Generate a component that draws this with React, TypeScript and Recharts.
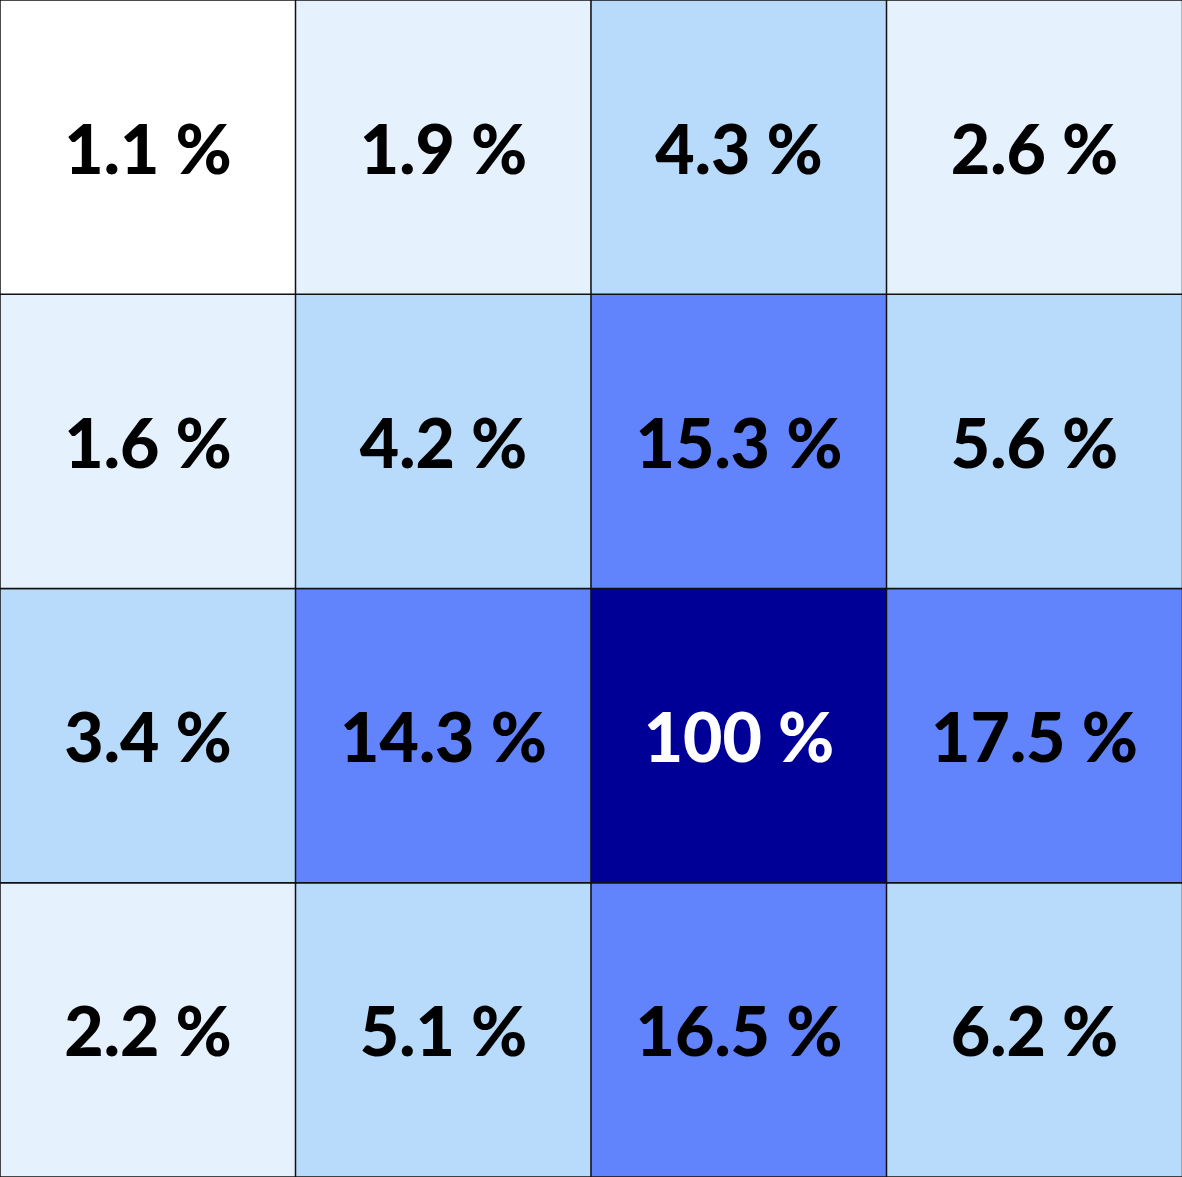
import { BarChart, Bar, XAxis, YAxis, Cell } from 'recharts'

// Column labels (left to right)
const columns = ['C1', 'C2', 'C3', 'C4']

// Values per row, top to bottom, in percent
const row1 = [1.1, 1.9, 4.3, 2.6]
const row2 = [1.6, 4.2, 15.3, 5.6]
const row3 = [3.4, 14.3, 100, 17.5]
const row4 = [2.2, 5.1, 16.5, 6.2]

// rows stacked from the bottom up
const rows = [
  { key: 'r4', values: row4 },
  { key: 'r3', values: row3 },
  { key: 'r2', values: row2 },
  { key: 'r1', values: row1 },
]

const W = 1182
const H = 1177

const colorFor = (v: number) => {
  if (v >= 50) return '#000096'
  if (v >= 10) return '#6184FD'
  if (v >= 3) return '#B8DBFB'
  if (v >= 1.5) return '#E5F1FC'
  return '#FFFFFF'
}

const formatPct = (v: number) => `${v} %`

// each column holds one unit-high cell per row
const data = columns.map((col) => {
  const d: Record<string, string | number> = { col }
  rows.forEach((r) => {
    d[r.key] = 1
  })
  return d
})

export default function App() {
  return (
    <div style={{ position: 'absolute', left: 0, top: 0, width: W, height: H, background: '#fff' }}>
      <BarChart width={W} height={H} data={data} margin={{ top: 0, right: 0, bottom: 0, left: 0 }} barCategoryGap={0} barGap={0}>
        <XAxis dataKey="col" hide />
        <YAxis type="number" domain={[0, 4]} hide />
        {rows.map((r) => (
          <Bar
            key={r.key}
            dataKey={r.key}
            stackId="grid"
            stroke="#111"
            strokeWidth={1.5}
            isAnimationActive={false}
            label={(props: any) => {
              const { x, y, width, height, index } = props
              const v = r.values[index]
              return (
                <text
                  x={Number(x) + Number(width) / 2}
                  y={Number(y) + Number(height) / 2}
                  textAnchor="middle"
                  dominantBaseline="central"
                  fontFamily="Lato, 'Open Sans', sans-serif"
                  fontWeight={900}
                  fontSize={68}
                  fill={v >= 50 ? '#FFFFFF' : '#000000'}
                >
                  {formatPct(v)}
                </text>
              )
            }}
          >
            {r.values.map((v, i) => (
              <Cell key={`c-${r.key}-${i}`} fill={colorFor(v)} />
            ))}
          </Bar>
        ))}
      </BarChart>
    </div>
  )
}
